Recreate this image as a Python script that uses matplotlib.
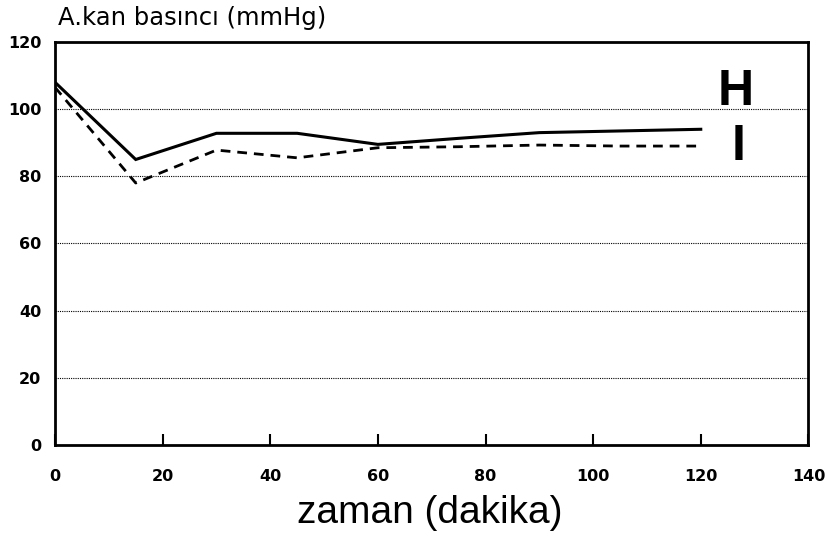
import matplotlib
matplotlib.use("Agg")
import matplotlib.pyplot as plt

time_min = [0, 15, 30, 45, 60, 75, 90, 105, 120]
series_H = [108, 85, 92.8, 92.8, 89.5, 91.3, 93, 93.5, 94]
series_I = [106.5, 78, 87.8, 85.5, 88.5, 88.8, 89.3, 89, 89]
xticks = [0, 20, 40, 60, 80, 100, 120, 140]
yticks = [0, 20, 40, 60, 80, 100, 120]

plt.rcParams['font.family'] = ['DejaVu Sans']

fig = plt.figure(figsize=(8.27, 5.38), dpi=100)
ax = fig.add_axes([0.0665, 0.173, 0.911, 0.749])

ax.plot(time_min, series_H, color='black', lw=2.2, solid_joinstyle='miter')
ax.plot(time_min, series_I, color='black', lw=2.0, linestyle=(0, (3.5, 2.5)))

ax.set_xlim(0, 140)
ax.set_ylim(0, 120)
ax.set_xticks(xticks)
ax.set_yticks(yticks)
ax.set_xticklabels([str(t) for t in xticks], fontsize=11.5, fontweight='bold')
ax.set_yticklabels([str(t) for t in yticks], fontsize=11.5, fontweight='bold')
ax.tick_params(axis='x', direction='in', length=8, width=1.5, pad=17)
ax.tick_params(axis='y', length=0, pad=10)

for y in yticks[1:-1]:
    ax.axhline(y, color='black', lw=0.8, linestyle=(0, (1, 1)), zorder=0)

for s in ax.spines.values():
    s.set_linewidth(2)

ax.text(126.5, 105, 'H', fontsize=36, fontweight='bold', ha='center', va='center',
        family='Liberation Sans')
ax.text(127, 88.8, 'I', fontsize=36, fontweight='bold', ha='center', va='center',
        family='Liberation Sans')

fig.text(58/827, 1 - 18/538, 'A.kan basıncı (mmHg)', fontsize=17.5, ha='left', va='center')
fig.text(430/827, 1 - 513/538, 'zaman (dakika)', fontsize=28, ha='center', va='center',
         family='Liberation Sans')

fig.savefig('out.png', dpi=100)
